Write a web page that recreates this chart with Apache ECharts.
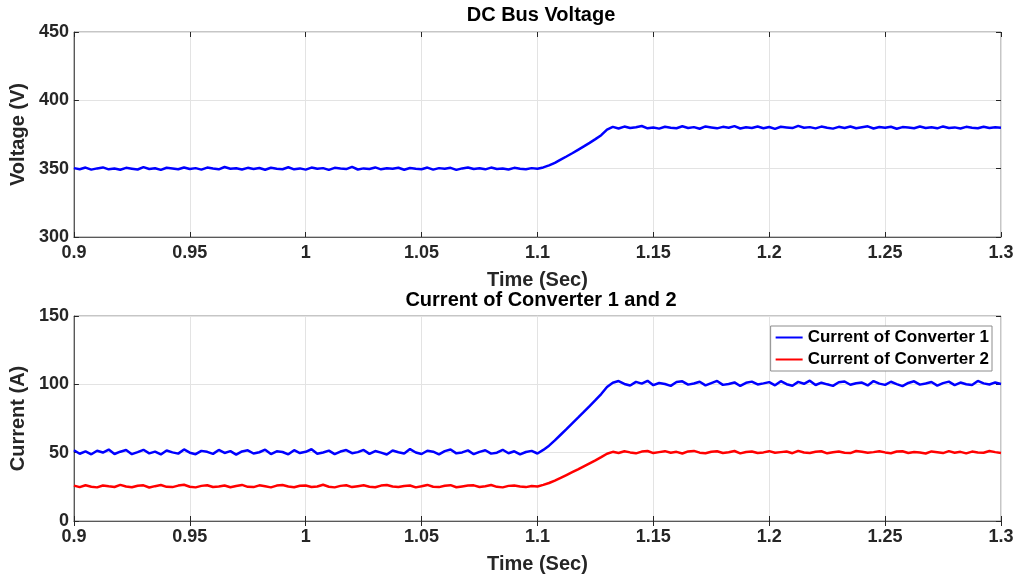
<!DOCTYPE html>
<html>
<head>
<meta charset="utf-8">
<script src="https://cdn.jsdelivr.net/npm/echarts@6/dist/echarts.min.js"></script>
<style>
  html, body { margin: 0; padding: 0; background: #fff; }
  #chart { width: 1021px; height: 580px; }
</style>
</head>
<body>
<div id="chart"></div>
<script>
// sampling of the traces (sec)
const tStart = 0.9;
const tStep = 0.0025;

// DC bus voltage (V), one value per sample
const busVoltage = [
  350.4, 349.6, 350.8, 349.3, 350.2, 350.9, 349.5, 350.1, 349.2, 350.6,
  350.0, 349.4, 351.1, 349.8, 350.3, 349.1, 350.7, 350.2, 349.6, 350.9,
  349.7, 350.4, 349.3, 350.8, 350.1, 349.5, 351.2, 349.9, 350.3, 349.4,
  350.6, 349.8, 350.5, 349.2, 350.7, 350.0, 349.6, 351.0, 349.5, 350.2,
  349.3, 350.8, 349.9, 350.4, 349.1, 350.6, 350.1, 349.7, 351.3, 349.4,
  350.2, 349.8, 350.9, 349.5, 350.3, 349.9, 350.7, 349.2, 350.5, 350.0,
  349.6, 350.8, 349.3, 350.4, 349.9, 350.6, 349.1, 350.2, 350.9, 349.7,
  350.3, 349.5, 350.8, 349.8, 350.1, 349.4, 350.6, 350.0, 349.6, 350.4,
  349.9, 350.9, 352.4, 354.3, 356.6, 358.9, 361.3, 363.8, 366.3, 368.9,
  371.6, 374.5, 378.6, 380.6, 379.4, 380.8, 379.7, 380.3, 381.2, 379.5,
  380.1, 379.3, 380.7, 380.0, 379.6, 381.0, 379.8, 380.4, 379.2, 380.9,
  380.2, 379.5, 380.6, 379.9, 381.1, 379.4, 380.3, 379.8, 380.8, 379.6,
  380.5, 379.1, 380.7, 380.2, 379.7, 381.3, 379.9, 380.4, 379.5, 380.8,
  380.0, 379.3, 380.6, 379.8, 380.9, 379.6, 380.3, 381.0, 379.4, 380.5,
  379.9, 380.7, 379.2, 380.4, 380.1, 379.6, 380.8, 379.8, 380.3, 379.5,
  380.9, 379.7, 380.2, 379.4, 380.6, 380.0, 379.6, 380.7, 379.8, 380.3,
  379.9
];

// current of converter 1 (A)
const current1 = [
  51.8, 49.2, 50.9, 48.8, 51.4, 50.1, 52.3, 49.0, 50.7, 51.9,
  48.9, 50.4, 52.1, 49.5, 50.8, 48.7, 51.6, 50.2, 49.3, 52.4,
  50.0, 48.9, 51.3, 50.6, 49.1, 52.0, 49.8, 51.1, 48.6, 50.9,
  51.7, 49.4, 50.3, 52.2, 49.0, 51.0, 50.5, 48.8, 51.8, 49.7,
  50.6, 52.5, 49.2, 50.1, 51.5, 48.9, 50.8, 51.9, 49.6, 50.4,
  52.0, 49.1, 51.2, 50.0, 48.7, 51.6, 50.3, 49.4, 52.6, 50.1,
  49.0, 51.4, 50.7, 48.8, 51.1, 52.3, 49.5, 50.2, 51.7, 48.9,
  50.6, 51.8, 49.3, 50.0, 52.1, 49.6, 51.0, 48.7, 50.5, 51.3,
  49.4, 52.0, 55.1, 59.0, 63.1, 67.2, 71.5, 75.6, 79.8, 84.1,
  88.4, 92.9, 98.1, 101.2, 102.4, 100.3, 99.1, 101.8, 100.5, 102.6,
  99.4, 101.0, 100.2, 98.9, 101.7, 102.2, 99.8, 100.6, 101.9, 99.2,
  100.9, 102.5, 99.6, 100.3, 101.4, 98.8, 101.1, 102.0, 99.9, 100.7,
  101.6, 99.3, 102.3, 100.1, 99.0, 101.8, 100.4, 102.7, 99.5, 101.2,
  100.0, 98.9, 101.5, 102.1, 99.7, 100.8, 101.3, 99.2, 102.4, 100.5,
  99.6, 101.9, 100.2, 98.7, 101.0, 102.2, 99.8, 100.6, 101.7, 99.1,
  100.9, 102.0, 99.4, 101.3, 100.1, 99.5, 102.5, 100.7, 99.9, 101.4,
  100.3
];

// current of converter 2 (A)
const current2 = [
  25.9, 24.8, 26.2, 25.1, 24.6, 26.0, 25.4, 24.9, 26.4, 25.2,
  24.7, 25.8, 26.1, 24.5, 25.5, 26.3, 25.0, 24.8, 25.9, 26.5,
  25.1, 24.6, 25.7, 26.2, 24.9, 25.3, 26.0, 24.7, 25.6, 26.4,
  25.0, 24.8, 26.1, 25.4, 24.6, 25.9, 26.3, 25.2, 24.7, 25.8,
  26.0, 24.9, 25.3, 26.5, 25.1, 24.6, 25.7, 26.2, 24.8, 25.5,
  26.1, 25.0, 24.7, 25.9, 26.3, 25.2, 24.9, 25.6, 26.0, 24.6,
  25.4, 26.4, 25.1, 24.8, 25.8, 26.2, 24.7, 25.3, 25.9, 26.1,
  24.9, 25.5, 26.3, 25.0, 24.6, 25.7, 26.0, 25.2, 24.8, 25.6,
  25.2, 26.4, 27.8, 29.6, 31.5, 33.6, 35.7, 37.8, 40.0, 42.2,
  44.4, 46.7, 49.2, 50.6, 49.8, 51.0, 50.2, 49.5, 50.8, 51.2,
  49.7, 50.4, 51.1, 49.9, 50.6, 49.4, 50.9, 51.3, 50.0, 49.6,
  50.7, 51.0, 49.8, 50.3, 51.2, 49.5, 50.5, 50.9, 49.7, 50.2,
  51.1, 49.9, 50.4, 50.8, 49.6, 51.3, 50.1, 49.8, 50.7, 51.0,
  49.5, 50.3, 50.9, 50.0, 49.7, 51.2, 50.6, 49.9, 50.4, 51.1,
  50.2, 49.6, 50.8, 51.0, 49.8, 50.5, 50.1, 49.4, 50.9, 50.3,
  49.7, 51.1, 50.0, 50.6, 49.5, 50.8, 50.2, 49.9, 51.2, 50.4,
  49.8
];

const seriesNames = ['Current of Converter 1', 'Current of Converter 2'];

// pair each value with its sample time
const toPairs = (vals) => vals.map((v, i) => [+(tStart + i * tStep).toFixed(4), v]);

const font = 'Liberation Sans, Arial, sans-serif';
const txt = '#262626';

const makeX = (gridIndex) => ([
  {
    gridIndex, type: 'value', min: 0.9, max: 1.3, interval: 0.05,
    name: 'Time (Sec)', nameLocation: 'middle', nameGap: 33,
    nameTextStyle: { fontFamily: font, fontWeight: 'bold', fontSize: 20, color: txt },
    axisLine: { onZero: false, lineStyle: { color: '#595959', width: 1 } },
    axisTick: { inside: true, length: 5, lineStyle: { color: '#262626' } },
    axisLabel: {
      margin: 7, fontFamily: font, fontWeight: 'bold', fontSize: 18, color: txt,
      formatter: (v) => String(parseFloat(v.toFixed(2)))
    },
    splitLine: { show: true, lineStyle: { color: '#e3e3e3', width: 1 } }
  },
  {
    gridIndex, type: 'value', min: 0.9, max: 1.3, interval: 0.05, position: 'top',
    axisLine: { show: false },
    axisTick: { inside: true, length: 5, lineStyle: { color: '#262626' } },
    axisLabel: { show: false }, splitLine: { show: false }
  }
]);

const makeY = (gridIndex, min, max, name) => ([
  {
    gridIndex, type: 'value', min, max, interval: 50,
    name, nameLocation: 'middle', nameGap: 40,
    nameTextStyle: { fontFamily: font, fontWeight: 'bold', fontSize: 20, color: txt },
    axisLine: { show: true, onZero: false, lineStyle: { color: '#595959', width: 1 } },
    axisTick: { show: true, inside: true, length: 5, lineStyle: { color: '#262626' } },
    axisLabel: { margin: 5, fontFamily: font, fontWeight: 'bold', fontSize: 18, color: txt },
    splitLine: { show: true, lineStyle: { color: '#e3e3e3', width: 1 } }
  },
  {
    gridIndex, type: 'value', min, max, interval: 50, position: 'right',
    axisLine: { show: false },
    axisTick: { show: true, inside: true, length: 5, lineStyle: { color: '#262626' } },
    axisLabel: { show: false }, splitLine: { show: false }
  }
]);

const chart = echarts.init(document.getElementById('chart'), null, { renderer: 'canvas' });

const option = {
  backgroundColor: '#ffffff',
  animation: false,
  title: [
    {
      text: 'DC Bus Voltage', left: 536, top: 0, textAlign: 'center',
      textStyle: { fontFamily: font, fontWeight: 'bold', fontSize: 20, color: '#000' }
    },
    {
      text: 'Current of Converter 1 and 2', left: 536, top: 285, textAlign: 'center',
      textStyle: { fontFamily: font, fontWeight: 'bold', fontSize: 20, color: '#000' }
    }
  ],
  legend: {
    data: seriesNames,
    orient: 'vertical',
    right: 29, top: 326,
    backgroundColor: '#fff',
    borderColor: '#8c8c8c', borderWidth: 1,
    padding: [3, 3, 3, 5],
    itemGap: 5,
    icon: 'rect',
    itemWidth: 27, itemHeight: 2,
    textStyle: { fontFamily: font, fontWeight: 'bold', fontSize: 17, color: '#000' }
  },
  grid: [
    { left: 72, right: 20, top: 32, height: 205, show: true, borderColor: '#8c8c8c', borderWidth: 1, backgroundColor: 'transparent' },
    { left: 72, right: 20, top: 316, height: 205, show: true, borderColor: '#8c8c8c', borderWidth: 1, backgroundColor: 'transparent' }
  ],
  xAxis: [...makeX(0), ...makeX(1)],
  yAxis: [...makeY(0, 300, 450, 'Voltage (V)'), ...makeY(1, 0, 150, 'Current (A)')],
  series: [
    {
      name: 'DC Bus Voltage', type: 'line', xAxisIndex: 0, yAxisIndex: 0,
      data: toPairs(busVoltage), symbol: 'none',
      lineStyle: { color: '#0000ff', width: 2.5 }, itemStyle: { color: '#0000ff' }
    },
    {
      name: seriesNames[0], type: 'line', xAxisIndex: 2, yAxisIndex: 2,
      data: toPairs(current1), symbol: 'none',
      lineStyle: { color: '#0000ff', width: 2.5 }, itemStyle: { color: '#0000ff' }
    },
    {
      name: seriesNames[1], type: 'line', xAxisIndex: 2, yAxisIndex: 2,
      data: toPairs(current2), symbol: 'none',
      lineStyle: { color: '#ff0000', width: 2.5 }, itemStyle: { color: '#ff0000' }
    }
  ]
};

chart.setOption(option);
</script>
</body>
</html>
